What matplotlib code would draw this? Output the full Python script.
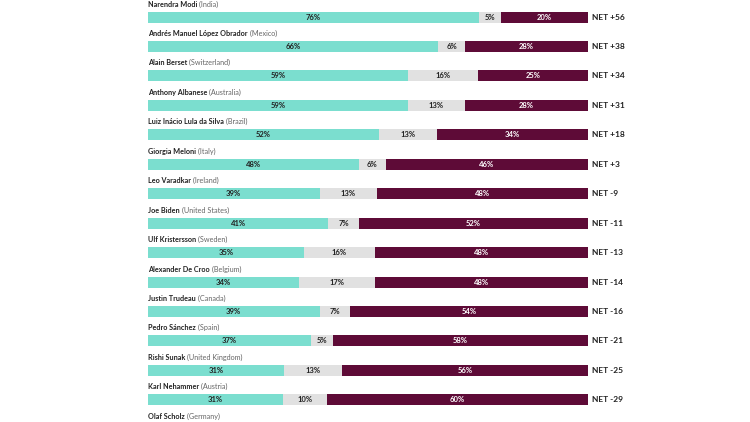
import numpy as np
import matplotlib.pyplot as plt

names = ["Narendra Modi", "Andrés Manuel López Obrador", "Alain Berset", "Anthony Albanese",
         "Luiz Inácio Lula da Silva", "Giorgia Meloni", "Leo Varadkar", "Joe Biden",
         "Ulf Kristersson", "Alexander De Croo", "Justin Trudeau", "Pedro Sánchez",
         "Rishi Sunak", "Karl Nehammer", "Olaf Scholz"]
countries = ["India", "Mexico", "Switzerland", "Australia", "Brazil", "Italy", "Ireland",
             "United States", "Sweden", "Belgium", "Canada", "Spain", "United Kingdom",
             "Austria", "Germany"]
approve = [76, 66, 59, 59, 52, 48, 39, 41, 35, 34, 39, 37, 31, 31]
unsure = [5, 6, 16, 13, 13, 6, 13, 7, 16, 17, 7, 5, 13, 10]
disapprove = [20, 28, 25, 28, 34, 46, 48, 52, 48, 48, 54, 58, 56, 60]
net = ["+56", "+38", "+34", "+31", "+18", "+3", "-9", "-11", "-13", "-14", "-16", "-21", "-25", "-29"]

TEAL = "#7bdecf"
GREY = "#e1e1e1"
MAROON = "#5e0b37"
DARK = "#222222"

plt.rcParams['font.family'] = ['Lato', 'DejaVu Sans']

fig = plt.figure(figsize=(7.5, 4.22), dpi=100)
ax = fig.add_axes([0, 0, 1, 1])
# map: x 0..1 -> pixels 148..588, rows ~29.45 px apart
ax.set_xlim(-148 / 440, (750 - 148) / 440)
ax.set_ylim((422 - 17) / 29.45, -17 / 29.45)
ax.axis('off')

h = 11 / 29.45
for i in range(len(approve)):
    tot = approve[i] + unsure[i] + disapprove[i]
    a, u, d = approve[i] / tot, unsure[i] / tot, disapprove[i] / tot
    ax.barh(i, a, left=0, height=h, color=TEAL)
    ax.barh(i, u, left=a, height=h, color=GREY)
    ax.barh(i, d, left=a + u, height=h, color=MAROON)
    kw = dict(ha='center', va='center', fontsize=5.5, fontweight='bold')
    ax.text(a / 2, i, f"{approve[i]}%", color=DARK, **kw)
    ax.text(a + u / 2, i, f"{unsure[i]}%", color=DARK, **kw)
    ax.text(a + u + d / 2, i, f"{disapprove[i]}%", color='white', **kw)
    ax.text(1.01, i, f"NET {net[i]}", ha='left', va='center', fontsize=6,
            fontweight='bold', color=DARK)

for i in range(len(names)):
    t = ax.text(0, i - 0.44, names[i], ha='left', va='center', fontsize=5.2,
                fontweight='bold', color=DARK)
    ax.annotate(f" ({countries[i]})", xy=(1, 0), xycoords=t, ha='left', va='bottom',
                fontsize=5.2, color='#666666')

fig.savefig("out.png", dpi=100)
